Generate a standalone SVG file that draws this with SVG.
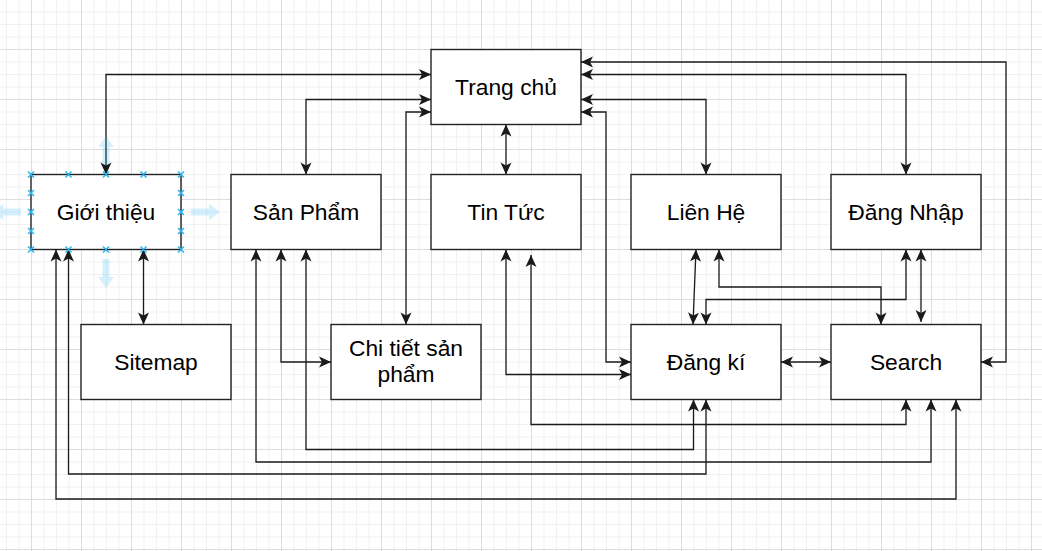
<svg xmlns="http://www.w3.org/2000/svg" width="1042" height="551" viewBox="0 0 1042 551">
  <style>
    .box { fill: #ffffff; stroke: #222222; stroke-width: 1.4; }
    .lbl { font-family: "Liberation Sans", Arial, sans-serif; font-size: 22.8px; fill: #000000; text-anchor: middle; }
    .conn { fill: none; stroke: #1a1a1a; stroke-width: 1.3; marker-start: url(#arr); marker-end: url(#arr); }
    .hint { fill: #29b6f2; fill-opacity: 0.2; }
    .hx { stroke: #29b6f2; stroke-width: 1.5; fill: none; }
  </style>
  <defs>
    <pattern id="grid" patternUnits="userSpaceOnUse" x="31" y="49" width="50" height="50">
      <path d="M13,0 V50 M25.5,0 V50 M38,0 V50 M0,13 H50 M0,25.5 H50 M0,38 H50" stroke="#f1f1f1" stroke-width="1" fill="none"/>
      <path d="M0.5,0 V50 M0,0.5 H50" stroke="#dddddd" stroke-width="1" fill="none"/>
    </pattern>
    <marker id="arr" markerUnits="userSpaceOnUse" viewBox="-13 -7 14 14" refX="0" refY="0" markerWidth="14" markerHeight="14" orient="auto-start-reverse">
      <path d="M0,0 L-12,-5.5 L-9,0 L-12,5.5 Z" fill="#1a1a1a"/>
    </marker>
    <path id="hintArrow" d="M0,-3.5 H18 V-8 L29,0 L18,8 V3.5 H0 Z"/>
  </defs>

  <rect width="1042" height="551" fill="#ffffff"/>
  <rect width="1042" height="551" fill="url(#grid)"/>

  <g id="connectors">
    <path class="conn" d="M106,174.5 V74.5 H431"/>
    <path class="conn" d="M306,174.5 V99.5 H431"/>
    <path class="conn" d="M406,324.5 V112 H431"/>
    <path class="conn" d="M506,174.5 V124.5"/>
    <path class="conn" d="M581,99.5 H706 V174.5"/>
    <path class="conn" d="M581,74.5 H906 V174.5"/>
    <path class="conn" d="M581,62 H1006 V362 H981"/>
    <path class="conn" d="M581,112 H606 V362 H631"/>
    <path class="conn" d="M506,249.5 V374.5 H631"/>
    <path class="conn" d="M143.5,249.5 V324.5"/>
    <path class="conn" d="M281,249.5 V362 H331"/>
    <path class="conn" d="M56,249.5 V499 H956 V399.5"/>
    <path class="conn" d="M68.5,249.5 V474 H706 V399.5"/>
    <path class="conn" d="M256,249.5 V462 H931 V399.5"/>
    <path class="conn" d="M306,249.5 V449.5 H693.5 V399.5"/>
    <path class="conn" d="M531,255 V424.5 H906 V399.5"/>
    <path class="conn" d="M696,249.5 L693,324.5"/>
    <path class="conn" d="M719,249.5 V287 H881 V324.5"/>
    <path class="conn" d="M906,249.5 V299.5 H706 V324.5"/>
    <path class="conn" d="M921,249.5 V322"/>
    <path class="conn" d="M781,362 H831"/>
  </g>

  <g id="trang-chu">
    <rect class="box" x="431" y="49.5" width="150" height="75"/>
    <text class="lbl" x="506" y="95">Trang chủ</text>
  </g>
  <g id="gioi-thieu">
    <rect class="box" x="31" y="174.5" width="150" height="75"/>
    <text class="lbl" x="106" y="220">Giới thiệu</text>
  </g>
  <g id="san-pham">
    <rect class="box" x="231" y="174.5" width="150" height="75"/>
    <text class="lbl" x="306" y="220">Sản Phẩm</text>
  </g>
  <g id="tin-tuc">
    <rect class="box" x="431" y="174.5" width="150" height="75"/>
    <text class="lbl" x="506" y="220">Tin Tức</text>
  </g>
  <g id="lien-he">
    <rect class="box" x="631" y="174.5" width="150" height="75"/>
    <text class="lbl" x="706" y="220">Liên Hệ</text>
  </g>
  <g id="dang-nhap">
    <rect class="box" x="831" y="174.5" width="150" height="75"/>
    <text class="lbl" x="906" y="220">Đăng Nhập</text>
  </g>
  <g id="sitemap">
    <rect class="box" x="81" y="324.5" width="150" height="75"/>
    <text class="lbl" x="156" y="370">Sitemap</text>
  </g>
  <g id="chi-tiet-san-pham">
    <rect class="box" x="331" y="324.5" width="150" height="75"/>
    <text class="lbl" x="406" y="356">Chi tiết sản</text>
    <text class="lbl" x="406" y="382">phẩm</text>
  </g>
  <g id="dang-ki">
    <rect class="box" x="631" y="324.5" width="150" height="75"/>
    <text class="lbl" x="706" y="370">Đăng kí</text>
  </g>
  <g id="search">
    <rect class="box" x="831" y="324.5" width="150" height="75"/>
    <text class="lbl" x="906" y="370">Search</text>
  </g>

  <g id="selection-hints">
    <use href="#hintArrow" class="hint" transform="translate(191,212)"/>
    <use href="#hintArrow" class="hint" transform="translate(106,259) rotate(90)"/>
    <use href="#hintArrow" class="hint" transform="translate(106,165) rotate(-90)"/>
    <use href="#hintArrow" class="hint" transform="translate(21,212) rotate(180)"/>
    <path class="hx" d="M28,171.5 l6,6 m0,-6 l-6,6 M65.5,171.5 l6,6 m0,-6 l-6,6 M103,171.5 l6,6 m0,-6 l-6,6 M140.5,171.5 l6,6 m0,-6 l-6,6 M178,171.5 l6,6 m0,-6 l-6,6"/>
    <path class="hx" d="M28,246.5 l6,6 m0,-6 l-6,6 M65.5,246.5 l6,6 m0,-6 l-6,6 M103,246.5 l6,6 m0,-6 l-6,6 M140.5,246.5 l6,6 m0,-6 l-6,6 M178,246.5 l6,6 m0,-6 l-6,6"/>
    <path class="hx" d="M28,190 l6,6 m0,-6 l-6,6 M28,209 l6,6 m0,-6 l-6,6 M28,228 l6,6 m0,-6 l-6,6 M178,190 l6,6 m0,-6 l-6,6 M178,209 l6,6 m0,-6 l-6,6 M178,228 l6,6 m0,-6 l-6,6"/>
  </g>
</svg>
